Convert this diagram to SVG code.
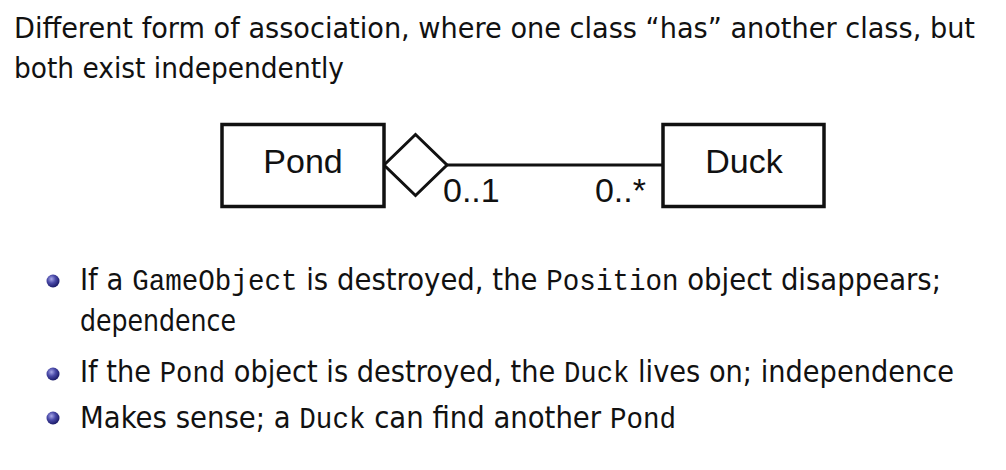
<svg xmlns="http://www.w3.org/2000/svg" width="1006" height="470" viewBox="0 0 1006 470">
<defs>
<radialGradient id="ball" cx="0.38" cy="0.35" r="0.7">
<stop offset="0" stop-color="#a8a8e8"/>
<stop offset="0.45" stop-color="#4a4aa8"/>
<stop offset="1" stop-color="#141460"/>
</radialGradient>
<style>
.t{font-family:"DejaVu Sans","Liberation Sans",sans-serif;font-size:29px;fill:#111}
.b{font-size:30px}
.m{font-family:"Liberation Mono","Courier New",monospace}
.d{font-family:"Liberation Sans",Arial,sans-serif;font-size:34px;fill:#111}
.box{fill:#fff;stroke:#111;stroke-width:3.5}
.edge{fill:none;stroke:#111;stroke-width:3}
</style>
</defs>
<rect width="1006" height="470" fill="#fff"/>
<text class="t" x="14" y="38" textLength="961" lengthAdjust="spacingAndGlyphs">Different form of association, where one class “has” another class, but</text>
<text class="t" x="14" y="78" textLength="330" lengthAdjust="spacingAndGlyphs">both exist independently</text>

<g id="connectors">
<polygon class="edge" points="384,165 415.5,134.5 447,165 415.5,195.5"/>
<line class="edge" x1="447" y1="165" x2="663" y2="165"/>
<text class="d" x="443" y="202">0..1</text>
<text class="d" x="646" y="202" text-anchor="end">0..*</text>
</g>
<g id="pond">
<rect class="box" x="222" y="124.5" width="162" height="82"/>
<text class="d" x="303" y="173" text-anchor="middle">Pond</text>
</g>
<g id="duck">
<rect class="box" x="663" y="124.5" width="161" height="82"/>
<text class="d" x="744" y="173" text-anchor="middle">Duck</text>
</g>

<g id="bullets">
<circle cx="53" cy="281" r="6.5" fill="url(#ball)"/>
<circle cx="53" cy="374" r="6.5" fill="url(#ball)"/>
<circle cx="53" cy="418" r="6.5" fill="url(#ball)"/>
<text class="t b" x="80" y="290" textLength="861" lengthAdjust="spacingAndGlyphs">If a <tspan class="m">GameObject</tspan> is destroyed, the <tspan class="m">Position</tspan> object disappears;</text>
<text class="t b" x="80" y="331" textLength="156" lengthAdjust="spacingAndGlyphs">dependence</text>
<text class="t b" x="80" y="382" textLength="874" lengthAdjust="spacingAndGlyphs">If the <tspan class="m">Pond</tspan> object is destroyed, the <tspan class="m">Duck</tspan> lives on; independence</text>
<text class="t b" x="80" y="428" textLength="596" lengthAdjust="spacingAndGlyphs">Makes sense; a <tspan class="m">Duck</tspan> can find another <tspan class="m">Pond</tspan></text>
</g>
</svg>
